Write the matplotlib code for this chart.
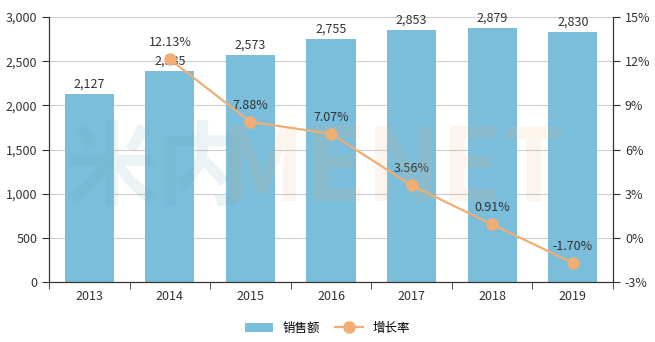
import numpy as np
import matplotlib.pyplot as plt
from matplotlib.lines import Line2D
from matplotlib.patches import Patch

plt.rcParams['font.family'] = ['Noto Sans CJK SC', 'DejaVu Sans']

years = ['2013', '2014', '2015', '2016', '2017', '2018', '2019']
sales = [2127, 2385, 2573, 2755, 2853, 2879, 2830]
growth = [None, 12.13, 7.88, 7.07, 3.56, 0.91, -1.70]

bar_color = '#7bbedb'
line_color = '#f0ae74'
text_color = '#333333'

fig = plt.figure(figsize=(6.55, 3.42), dpi=100)
ax1 = fig.add_axes([0.0748, 0.1754, 0.8612, 0.7746])
ax2 = ax1.twinx()

x = np.arange(len(years))
ax1.bar(x, sales, width=0.61, color=bar_color, zorder=2)
for xi, v in zip(x, sales):
    ax1.text(xi, v + 40, f'{v:,}', ha='center', va='bottom', fontsize=9, color=text_color, zorder=5)

ax1.set_xlim(-0.5, len(years) - 0.5)
ax1.set_ylim(0, 3000)
ax1.set_yticks(np.arange(0, 3001, 500))
ax1.set_yticklabels([f'{v:,}' for v in range(0, 3001, 500)])
ax1.set_xticks(x)
ax1.set_xticklabels(years)
ax1.set_xticks(np.arange(-0.5, len(years)), minor=True)
ax1.tick_params(axis='x', which='major', length=0, labelsize=9, colors=text_color, pad=6)
ax1.tick_params(axis='x', which='minor', length=5, color='#333333')
ax1.tick_params(axis='y', labelsize=9, colors=text_color, length=5)
ax1.grid(axis='y', color='#cccccc', linewidth=0.8, zorder=0)
ax1.set_axisbelow(True)

gx = [xi for xi, g in zip(x, growth) if g is not None]
gy = [g for g in growth if g is not None]
ax2.plot(gx, gy, color=line_color, linewidth=1.6, marker='o', markersize=8, zorder=4)
for xi, g in zip(gx, gy):
    ax2.text(xi, g + 0.7, f'{g:.2f}%', ha='center', va='bottom', fontsize=9, color=text_color, zorder=5)
ax2.set_ylim(-3, 15)
ax2.set_yticks(np.arange(-3, 16, 3))
ax2.set_yticklabels([f'{v}%' for v in range(-3, 16, 3)])
ax2.tick_params(axis='y', labelsize=9, colors=text_color, length=5)

for a in (ax1, ax2):
    a.spines['top'].set_visible(False)
    for s in ('left', 'right', 'bottom'):
        a.spines[s].set_color('#333333')

# 水印 (faint, drawn over the chart like the original)
fig.text(0.24, 0.50, '米内', fontsize=66, color='#6a9fb8', alpha=0.12, ha='center', va='center',
         fontweight='bold')
fig.text(0.60, 0.50, 'MENET', fontsize=72, color=line_color, alpha=0.13, ha='center', va='center',
         fontweight='bold')

handles = [Patch(facecolor=bar_color, edgecolor='none'),
           Line2D([0], [0], color=line_color, marker='o', markersize=8, linewidth=1.6)]
fig.legend(handles, ['销售额', '增长率'], loc='center', bbox_to_anchor=(0.5, 0.04), ncol=2,
           frameon=False, fontsize=9, handlelength=2.2, columnspacing=1.2)

fig.savefig('out.png', dpi=100)
